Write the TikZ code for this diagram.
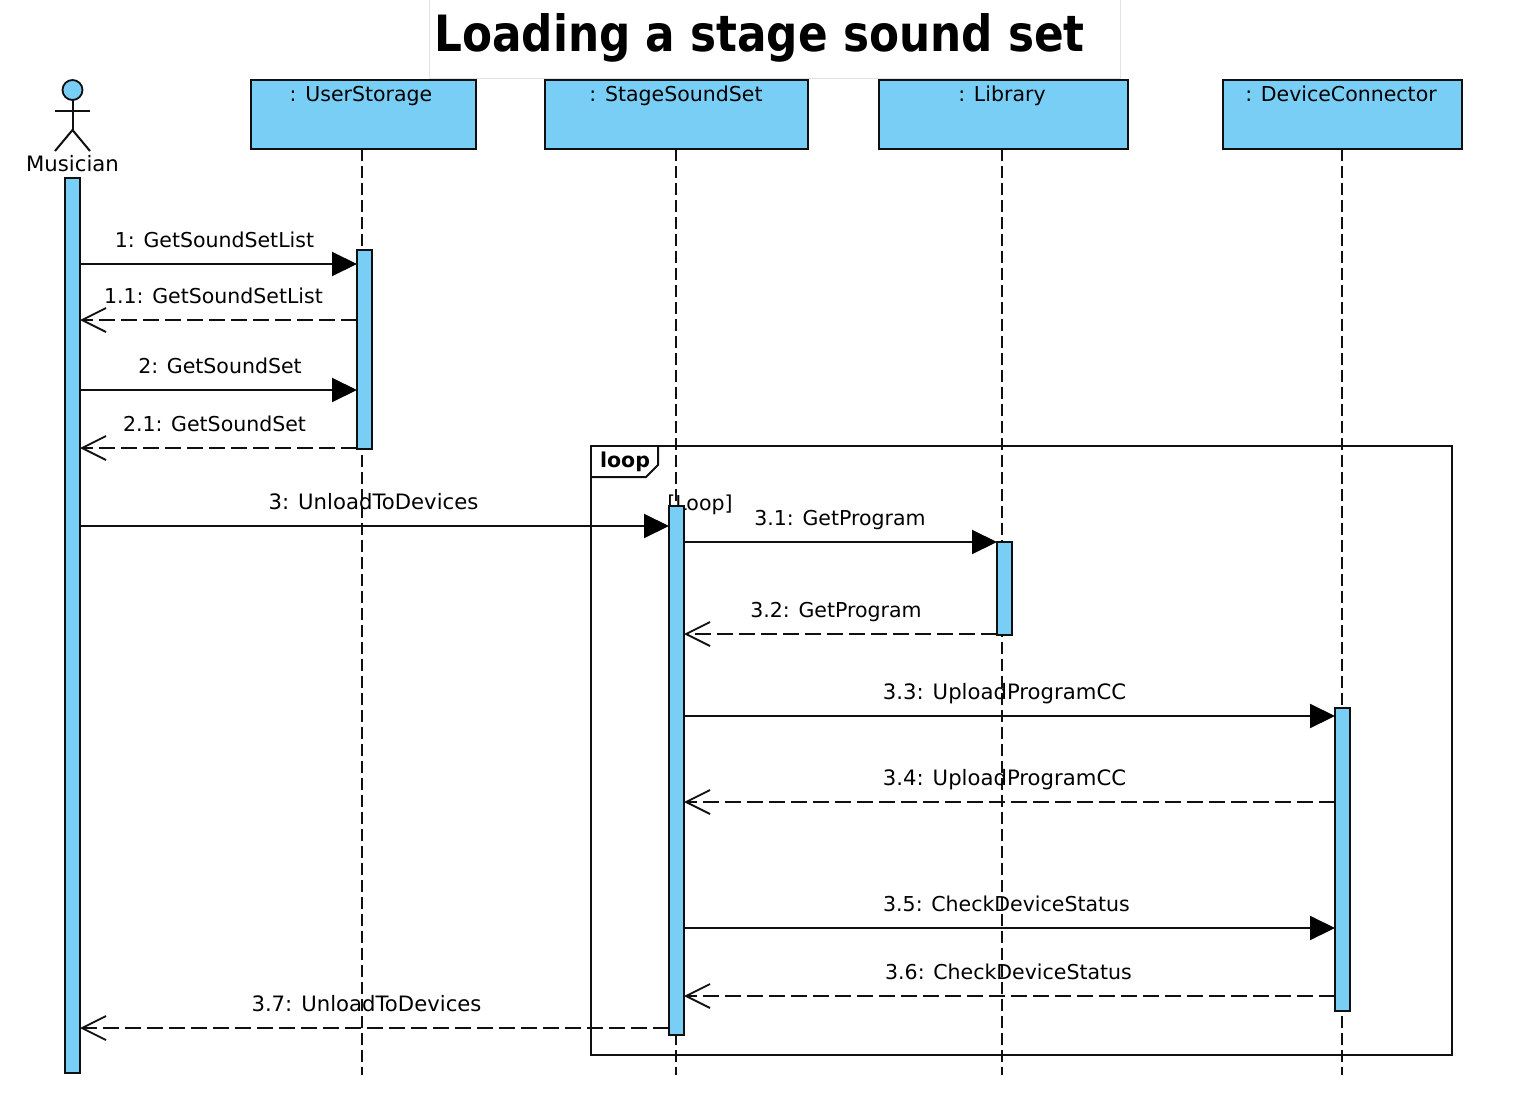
\documentclass[tikz,border=0pt]{standalone}
\usepackage{fontspec}
\setmainfont{DejaVu Sans}
\newfontfamily\titlefont[FakeStretch=0.875]{DejaVu Sans Bold}
\usetikzlibrary{arrows.meta,calc}
\definecolor{fillblue}{HTML}{79CEF6}
\definecolor{ink}{HTML}{101010}
\definecolor{titleedge}{HTML}{E2E2E2}
\tikzset{
  x=1pt,y=-1pt,
  every node/.style={inner sep=0pt,outer sep=0pt,text=black},
  obj/.style={draw=ink,fill=fillblue,line width=2pt,anchor=north west,minimum height=69pt},
  msglabel/.style={font=\fontsize{20.5}{24}\selectfont,anchor=center,text height=19pt,text depth=5pt},
  msgwide/.style={font=\fontsize{21.2}{24}\selectfont,anchor=center,text height=19pt,text depth=5pt},
  bar/.style={draw=ink,fill=fillblue,line width=2pt,anchor=north west,minimum width=15pt},
  lifeline/.style={draw=ink,line width=2pt,dash pattern=on 12pt off 5pt},
  call/.style={draw=ink,line width=2pt,-{Triangle[length=25pt,width=24pt,fill=black,color=black]}},
  reply/.style={draw=ink,line width=2pt,dash pattern=on 16pt off 6pt,-{Straight Barb[length=24pt,width=24pt,line width=1.8pt]}},
  stick/.style={draw=ink,line width=2pt},
  frameline/.style={draw=ink,line width=2pt},
}
\begin{document}
\begin{tikzpicture}
\useasboundingbox (0,0) rectangle (1533,1113);
% title
\node[draw=titleedge,fill=white,line width=1pt,anchor=north west,minimum width=691pt,minimum height=79pt] (titlebox) at (429,0) {};
\node[font=\fontsize{50}{54}\titlefont,anchor=base] (title) at (759.5,52) {Loading a stage sound set};
% objects
\node[obj,minimum width=225pt] (u) at (251,80) {};
\node[obj,minimum width=263pt] (s) at (545,80) {};
\node[obj,minimum width=249pt] (l) at (879,80) {};
\node[obj,minimum width=239pt] (d) at (1223,80) {};
\node[msglabel] (ut) at (361,95) {: UserStorage};
\node[msglabel] (st) at (676,95) {: StageSoundSet};
\node[msglabel] (lt) at (1002,95) {: Library};
\node[msglabel] (dt) at (1341,95) {: DeviceConnector};
% lifeline ends
\coordinate (ue) at (362,1075);
\coordinate (se) at (676,1075);
\coordinate (le) at (1002,1075);
\coordinate (de) at (1342,1075);
\draw[lifeline] (u.south -| ue) -- (ue);
\draw[lifeline] (s.south -| se) -- (se);
\draw[lifeline] (l.south -| le) -- (le);
\draw[lifeline] (d.south -| de) -- (de);
% actor
\node[draw=ink,fill=fillblue,line width=1.8pt,circle,minimum size=20pt] (head) at (72.5,90) {};
\coordinate (hip) at (72.5,130);
\coordinate (armL) at (55,111);
\coordinate (armR) at (90,111);
\coordinate (footL) at (55,151);
\coordinate (footR) at (90,151);
\draw[stick] (head.south) -- (hip);
\draw[stick] (armL) -- (armR);
\draw[stick] (footL) -- (hip) -- (footR);
\node[msgwide] (mus) at (72.5,164) {Musician};
% loop guard under the bar
\node[msglabel] (guard) at (700,503) {[Loop]};
% activation bars
\node[bar,minimum height=895pt] (a0) at (65,178) {};
\node[bar,minimum height=199pt] (a1) at (357,250) {};
\node[bar,minimum height=529pt] (a2) at (669,506) {};
\node[bar,minimum height=93pt] (a3) at (997,542) {};
\node[bar,minimum height=303pt] (a4) at (1335,708) {};
% loop frame
\node[frameline,anchor=north west,minimum width=861pt,minimum height=609pt] (loopf) at (591,446) {};
\coordinate (t1) at (658,446);
\coordinate (t2) at (658,465);
\coordinate (t3) at (646,477);
\coordinate (t4) at (591,477);
\draw[frameline] (t1) -- (t2) -- (t3) -- (t4);
\node[font=\fontsize{20.5}{24}\bfseries\selectfont,text height=19pt,text depth=5pt] (looplab) at (625,460) {loop};
% labels
\node[msglabel] (m1) at (214.5,240) {1: GetSoundSetList};
\node[msglabel] (m2) at (213.5,296) {1.1: GetSoundSetList};
\node[msglabel] (m3) at (220,366) {2: GetSoundSet};
\node[msglabel] (m4) at (214.5,424) {2.1: GetSoundSet};
\node[msgwide] (m5) at (373.5,502) {3: UnloadToDevices};
\node[msglabel] (m6) at (840,518) {3.1: GetProgram};
\node[msglabel] (m7) at (836,610) {3.2: GetProgram};
\node[msgwide] (m8) at (1004.5,692) {3.3: UploadProgramCC};
\node[msgwide] (m9) at (1004.5,778) {3.4: UploadProgramCC};
\node[msglabel] (m10) at (1006.5,904) {3.5: CheckDeviceStatus};
\node[msglabel] (m11) at (1008.5,972) {3.6: CheckDeviceStatus};
\node[msgwide] (m12) at (366.5,1004) {3.7: UnloadToDevices};
% messages
\draw[call] (a0.east |- 0,264) -- (a1.west |- 0,264);
\draw[reply] (a1.west |- 0,320) -- (a0.east |- 0,320);
\draw[call] (a0.east |- 0,390) -- (a1.west |- 0,390);
\draw[reply] (a1.west |- 0,448) -- (a0.east |- 0,448);
\draw[call] (a0.east |- 0,526) -- (a2.west |- 0,526);
\draw[call] (a2.east |- 0,542) -- (a3.west |- 0,542);
\draw[reply] (a3.west |- 0,634) -- (a2.east |- 0,634);
\draw[call] (a2.east |- 0,716) -- (a4.west |- 0,716);
\draw[reply] (a4.west |- 0,802) -- (a2.east |- 0,802);
\draw[call] (a2.east |- 0,928) -- (a4.west |- 0,928);
\draw[reply] (a4.west |- 0,996) -- (a2.east |- 0,996);
\draw[reply] (a2.west |- 0,1028) -- (a0.east |- 0,1028);
\end{tikzpicture}
\end{document}
